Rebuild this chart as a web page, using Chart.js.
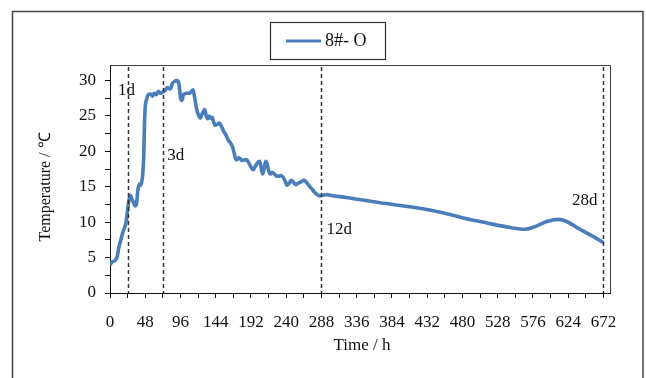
<!DOCTYPE html>
<html>
<head>
<meta charset="utf-8">
<script src="https://cdn.jsdelivr.net/npm/chart.js@4/dist/chart.umd.min.js"></script>
<style>
html,body{margin:0;padding:0;background:#fff;}
#wrap{width:646px;height:378px;position:relative;}
</style>
</head>
<body>
<div id="wrap"><canvas id="c" width="646" height="378"></canvas></div>
<script>
// ---- data ----
const seriesName = "8#- O";
const xTitle = "Time / h";
const yTitle = "Temperature / ℃";
const hours = [0,3,7,10,12,15,17,20,22,24,26,28,30,32,34,36,38,40,42,44,45,46,47,48,50,52,55,58,60,63,66,69,72,75,78,82,85,88,91,94,96,98,100,104,108,111,113,115,117,119,121,123,125,127,129,131,133,135,137,139,141,143,146,149,152,155,158,161,164,167,169,171,173,175,177,180,183,186,189,192,195,198,201,204,206,208,210,212,214,216,218,221,224,227,230,233,236,239,241,244,247,250,253,256,260,264,267,270,274,278,282,286,290,296,300,322,368,413,450,481,513,545,565,577,595,611,622,640,658,672];
const temps = [4.0,4.4,4.6,5.2,6.4,7.6,8.4,9.3,10.0,11.8,13.2,13.8,13.2,12.8,12.3,12.6,14.6,15.4,15.2,16.2,17.4,19.5,24.0,26.3,27.4,28.0,28.1,27.8,28.2,28.0,28.5,28.2,28.4,28.6,29.0,28.8,29.6,29.9,30.0,29.5,27.6,27.2,28.0,28.2,28.2,28.5,28.7,27.8,26.5,25.6,25.0,24.7,25.2,25.6,25.9,25.0,24.6,25.0,24.7,24.8,24.2,23.7,23.8,24.0,23.5,22.8,22.3,21.6,21.2,20.6,19.8,19.0,18.8,19.1,19.0,18.7,18.8,18.8,18.4,17.8,17.4,17.9,18.4,18.6,17.6,16.8,17.6,18.6,18.2,17.3,16.8,17.0,16.8,16.5,16.5,16.6,16.3,15.7,15.2,15.5,15.9,15.6,15.3,15.5,15.7,15.9,15.7,15.3,14.8,14.3,13.9,13.7,13.8,13.9,13.8,13.5,12.75,12.1,11.4,10.6,9.9,9.25,9.0,9.3,10.1,10.4,10.1,9.0,8.0,7.1];
const xTicks = [0,24,48,72,96,120,144,168,192,216,240,264,288,312,336,360,384,408,432,456,480,504,528,552,576,600,624,648,672];
const yTicks = [0,2.5,5,7.5,10,12.5,15,17.5,20,22.5,25,27.5,30];
const markerHours = [24,72,288,672];
const markerLabels = ["1d","3d","12d","28d"];
const markerLabelX = [11,78,295,664];   // hours (text anchor)
const markerLabelY = [28.6,19.4,9.0,13.1]; // temperature
const markerAlign = ["left","left","left","right"];

const points = hours.map((h,i)=>({x:h,y:temps[i]}));
const SERIF = "'Liberation Serif','Times New Roman',serif";
const BLUE = "#4A7EBB";

const decor = {
  id:'decor',
  beforeDraw(chart){
    const ctx = chart.ctx;
    ctx.save();
    ctx.fillStyle = '#fff';
    ctx.fillRect(0,0,chart.width,chart.height);
    // outer frame
    ctx.strokeStyle = '#444';
    ctx.lineWidth = 1.5;
    ctx.beginPath();
    ctx.moveTo(12.5,380); ctx.lineTo(12.5,11.5); ctx.lineTo(643,11.5); ctx.lineTo(643,380);
    ctx.stroke();
    ctx.restore();
  },
  afterDatasetsDraw(chart){
    const ctx = chart.ctx, xs = chart.scales.x, ys = chart.scales.y, a = chart.chartArea;
    ctx.save();
    // plot border top/right
    ctx.strokeStyle = '#404040'; ctx.lineWidth = 1;
    ctx.beginPath();
    ctx.moveTo(a.left, a.top+0.5); ctx.lineTo(a.right+0.5, a.top+0.5); ctx.lineTo(a.right+0.5, a.bottom);
    ctx.stroke();
    // dashed markers
    ctx.strokeStyle = '#333'; ctx.lineWidth = 1.5; ctx.setLineDash([4,3]);
    markerHours.forEach(h=>{
      const px = Math.round(xs.getPixelForValue(h))+0.5;
      ctx.beginPath(); ctx.moveTo(px, a.top+2); ctx.lineTo(px, a.bottom); ctx.stroke();
    });
    ctx.setLineDash([]);
    ctx.fillStyle = '#111'; ctx.font = '17px '+SERIF; ctx.textBaseline = 'middle';
    markerLabels.forEach((t,i)=>{
      ctx.textAlign = markerAlign[i];
      ctx.fillText(t, xs.getPixelForValue(markerLabelX[i]), ys.getPixelForValue(markerLabelY[i]));
    });
    // axis titles
    ctx.textAlign = 'center'; ctx.textBaseline = 'middle';
    ctx.font = '17px '+SERIF;
    ctx.fillText(xTitle, (a.left+a.right)/2 + 2, 346);
    ctx.save();
    ctx.translate(46, 187); ctx.rotate(-Math.PI/2);
    ctx.font = '16px '+SERIF;
    ctx.fillText(yTitle, 0, 0);
    ctx.restore();
    // legend box
    ctx.strokeStyle = '#333'; ctx.lineWidth = 1.2;
    ctx.strokeRect(270.5, 22.5, 115, 37);
    ctx.strokeStyle = BLUE; ctx.lineWidth = 3;
    ctx.beginPath(); ctx.moveTo(286,41); ctx.lineTo(321,41); ctx.stroke();
    ctx.fillStyle = '#111'; ctx.textAlign = 'left'; ctx.textBaseline = 'middle';
    ctx.font = '18px '+SERIF;
    ctx.fillText(seriesName, 325, 41.5);
    ctx.restore();
  }
};

new Chart(document.getElementById('c'), {
  type:'line',
  data:{datasets:[{label:seriesName,data:points,borderColor:BLUE,borderWidth:3.6,pointRadius:0,fill:false,cubicInterpolationMode:'monotone'}]},
  options:{
    responsive:false, animation:false, devicePixelRatio:1,
    layout:{padding:{left:0,top:65,right:36,bottom:0}},
    plugins:{legend:{display:false},tooltip:{enabled:false}},
    scales:{
      x:{type:'linear',min:0,max:681,
        afterBuildTicks(s){ s.ticks = xTicks.map(v=>({value:v})); },
        afterFit(s){ s.height = 85; },
        ticks:{autoSkip:false,maxRotation:0,padding:14,color:'#111',font:{family:SERIF,size:17},
          callback:(v)=> (v%48===0 ? String(v) : '')},
        grid:{drawOnChartArea:false,tickLength:5,tickColor:'#111',tickWidth:1},
        border:{color:'#111',width:1},
        title:{display:false}
      },
      y:{type:'linear',min:0,max:32.2,
        afterBuildTicks(s){ s.ticks = yTicks.map(v=>({value:v})); },
        afterFit(s){ s.width = 110; },
        ticks:{autoSkip:false,padding:9,color:'#111',font:{family:SERIF,size:17},
          callback:(v)=> (v%5===0 ? String(v) : '')},
        grid:{drawOnChartArea:false,tickLength:5,tickColor:'#111',tickWidth:1},
        border:{color:'#111',width:1},
        title:{display:false}
      }
    }
  },
  plugins:[decor]
});
</script>
</body>
</html>
